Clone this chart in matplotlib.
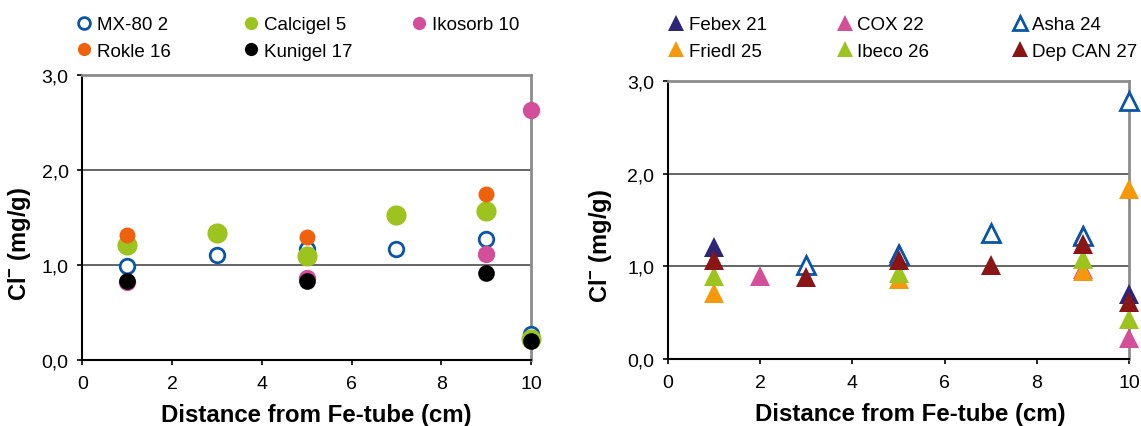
import matplotlib
matplotlib.use('Agg')
import matplotlib.pyplot as plt
from matplotlib.lines import Line2D

plt.rcParams['font.family'] = ['Liberation Sans', 'DejaVu Sans']
plt.rcParams['mathtext.fontset'] = 'custom'
plt.rcParams['mathtext.rm'] = 'Liberation Sans'
plt.rcParams['mathtext.bf'] = 'Liberation Sans:bold'

W, H = 1141, 427

# ---- left panel: circles ----
mx80_x = [1, 3, 5, 7, 9, 10]
mx80_y = [0.99, 1.11, 1.17, 1.17, 1.27, 0.27]
calcigel_x = [1, 3, 5, 7, 9, 10]
calcigel_y = [1.21, 1.34, 1.09, 1.53, 1.565, 0.22]
ikosorb_x = [1, 5, 9, 10]
ikosorb_y = [0.82, 0.86, 1.12, 2.63]
rokle_x = [1, 5, 9]
rokle_y = [1.32, 1.30, 1.75]
kunigel_x = [1, 5, 9, 10]
kunigel_y = [0.83, 0.83, 0.92, 0.20]

# ---- right panel: triangles ----
febex_x = [1, 5, 9, 10]
febex_y = [1.21, 1.15, 1.34, 0.70]
cox_x = [2, 9, 10]
cox_y = [0.90, 0.97, 0.23]
asha_x = [3, 5, 7, 9, 10]
asha_y = [1.02, 1.12, 1.36, 1.33, 2.78]
friedl_x = [1, 5, 9, 10]
friedl_y = [0.71, 0.87, 0.95, 1.83]
ibeco_x = [1, 5, 9, 10]
ibeco_y = [0.90, 0.93, 1.08, 0.43]
depcan_x = [1, 3, 5, 7, 9, 10]
depcan_y = [1.07, 0.885, 1.07, 1.02, 1.24, 0.62]

x_ticks = [0, 2, 4, 6, 8, 10]
y_ticks = [0, 1, 2, 3]
y_tick_labels = ['0,0', '1,0', '2,0', '3,0']

blue = '#0A55A8'
green = '#9DC31E'
pink = '#D34F9A'
orange = '#EE620E'
orange2 = '#F6980C'
navy = '#2D2677'
darkred = '#8A1515'

# (label, x, y, marker, color, filled, plot size, legend size)
left_series = [
    ('MX-80 2', mx80_x, mx80_y, 'o', blue, False, 10.5, 8.5),
    ('Calcigel 5', calcigel_x, calcigel_y, 'o', green, True, 14.5, 9.5),
    ('Ikosorb 10', ikosorb_x, ikosorb_y, 'o', pink, True, 12.5, 9.5),
    ('Rokle 16', rokle_x, rokle_y, 'o', orange, True, 11.5, 9.5),
    ('Kunigel 17', kunigel_x, kunigel_y, 'o', 'black', True, 12, 9.5),
]
right_series = [
    ('Febex 21', febex_x, febex_y, '^', navy, True, 14.5, 12),
    ('COX 22', cox_x, cox_y, '^', pink, True, 14.5, 12),
    ('Asha 24', asha_x, asha_y, '^', blue, False, 12.5, 10.5),
    ('Friedl 25', friedl_x, friedl_y, '^', orange2, True, 14.5, 12),
    ('Ibeco 26', ibeco_x, ibeco_y, '^', green, True, 14.5, 12),
    ('Dep CAN 27', depcan_x, depcan_y, '^', darkred, True, 14.5, 12),
]


def style_axes(ax):
    ax.set_xlim(0, 10)
    ax.set_ylim(0, 3)
    ax.set_xticks(x_ticks)
    ax.set_yticks(y_ticks)
    ax.set_yticklabels(y_tick_labels)
    for v in [1, 2]:
        ax.axhline(v, color='#3a3a3a', lw=1.1, zorder=1)
    ax.spines['left'].set_color('black')
    ax.spines['bottom'].set_color('black')
    ax.spines['left'].set_linewidth(1.5)
    ax.spines['bottom'].set_linewidth(1.5)
    ax.spines['top'].set_color('#8c8c8c')
    ax.spines['right'].set_color('#8c8c8c')
    ax.spines['top'].set_linewidth(2)
    ax.spines['right'].set_linewidth(2)
    ax.tick_params(direction='out', length=3.8, width=1.2, labelsize=14)
    ax.tick_params(axis='x', pad=7)
    ax.tick_params(axis='y', pad=6)
    ax.set_xlabel('Distance from Fe-tube (cm)', fontsize=17.3, fontweight='bold')
    ax.set_ylabel(r'Cl$^{\mathbf{-}}$ (mg/g)', fontsize=17, fontweight='bold')


def draw(ax, series):
    for label, x, y, m, c, filled, ms, _ in series:
        ax.plot(x, y, ls='none', marker=m, ms=ms, mfc=c if filled else 'white',
                mec=c, mew=0 if filled else 2, clip_on=False, zorder=5)


def column_legend(fig, series, x_px, y_px):
    handles = [Line2D([], [], ls='none', marker=m, ms=lms, mfc=c if filled else 'white',
                      mec=c, mew=0 if filled else 2)
               for _, _, _, m, c, filled, _, lms in series]
    labels = [s[0] for s in series]
    fig.legend(handles, labels, loc='upper left', bbox_to_anchor=(x_px / W, 1 - y_px / H),
               frameon=False, fontsize=13.5, borderpad=0, borderaxespad=0,
               handlelength=1.0, handletextpad=0.15, labelspacing=0.5)


fig = plt.figure(figsize=(W / 100, H / 100), dpi=100)
ax1 = fig.add_axes([82.3 / W, 1 - 361 / H, (531 - 82.3) / W, (361 - 76) / H])
ax2 = fig.add_axes([667.7 / W, 1 - 360.3 / H, (1129.3 - 667.7) / W, (360.3 - 81.7) / H])

style_axes(ax1)
style_axes(ax2)
draw(ax1, left_series)
draw(ax2, right_series)

# label placement in pixels (right edge of the rotated y label, top of the x label)
ax1.yaxis.set_label_coords(-(82.3 - 33) / (531 - 82.3), 0.41)
ax2.yaxis.set_label_coords(-(667.7 - 614) / (1129.3 - 667.7), 0.41)
ax1.xaxis.set_label_coords(0.522, -0.15)
ax2.xaxis.set_label_coords(0.526, -0.154)

# legends, filled row-wise in three columns
column_legend(fig, [left_series[0], left_series[3]], 75, 17)
column_legend(fig, [left_series[1], left_series[4]], 242, 17)
column_legend(fig, [left_series[2]], 410, 17)
column_legend(fig, [right_series[0], right_series[3]], 667, 17)
column_legend(fig, [right_series[1], right_series[4]], 835.5, 17)
column_legend(fig, [right_series[2], right_series[5]], 1010.5, 17)

fig.savefig('out.png', dpi=100)
